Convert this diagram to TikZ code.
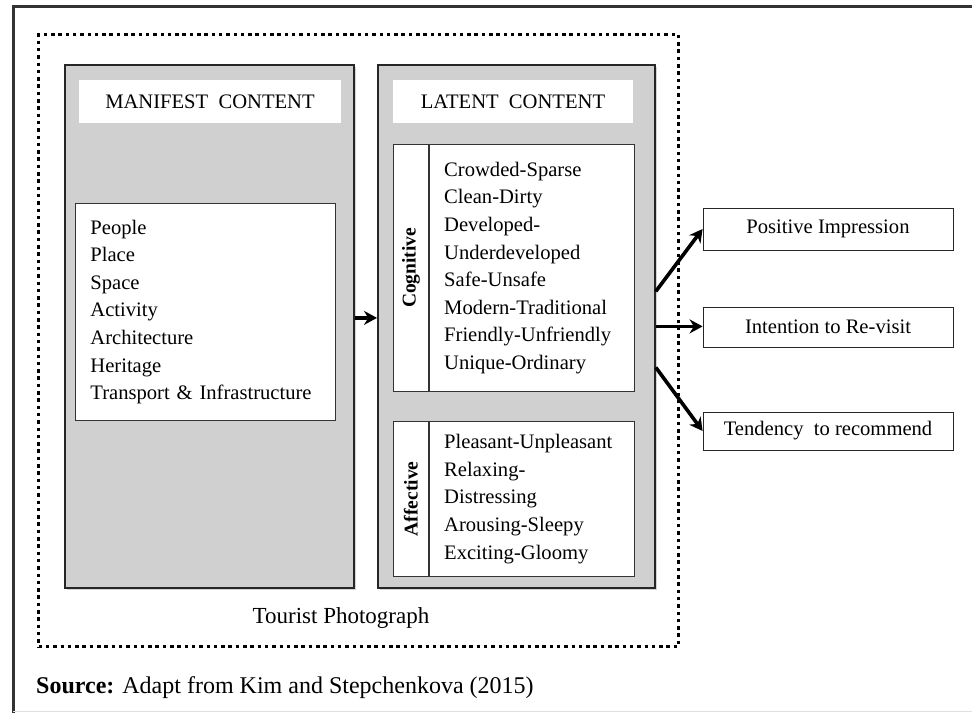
\documentclass[tikz,border=0pt]{standalone}
\usepackage{fontspec}
\setmainfont{Liberation Serif}
\usetikzlibrary{shapes.geometric, arrows.meta, shadows}
\definecolor{panelgray}{RGB}{208,208,208}

\begin{document}
\begin{tikzpicture}[x=1pt, y=-1pt, font=\fontsize{20.6}{27.6}\selectfont]
        \tikzstyle{panel} = [rectangle, draw=black!85, line width=1.8pt, fill=panelgray, drop shadow={opacity=0.35, shadow xshift=2pt, shadow yshift=-2pt}]
        \tikzstyle{headbox} = [rectangle, fill=white, minimum height=43pt]
        \tikzstyle{listbox} = [rectangle, draw=black!80, line width=0.8pt, fill=white, align=left, inner sep=0pt]
        \tikzstyle{tagbox} = [rectangle, draw=black!80, line width=0.8pt, fill=white, inner sep=0pt, font=\fontsize{19.5}{20}\selectfont\bfseries]
        \tikzstyle{outbox} = [rectangle, draw=black!85, line width=0.8pt, fill=white, minimum width=250pt]
        \tikzstyle{dotbox} = [rectangle, draw=black, line width=3.2pt, dash pattern=on 3.5pt off 3.8pt]
        \tikzstyle{arrow} = [line width=3.6pt, -{Stealth[length=13pt,width=14pt]}]

        \useasboundingbox (0,0) rectangle (972,713);

        % Frame
        \draw [line width=3pt, draw=black!80] (13,713) -- (13,6) -- (972,6);
        \draw [line width=1pt, draw=black!12] (13,711) -- (972,711);

        % Nodes
        \node (photo) [dotbox, anchor=north west, minimum width=640pt, minimum height=612pt] at (37,33) {};
        \node (manifest) [panel, anchor=north west, minimum width=289pt, minimum height=523pt] at (64,64) {};
        \node (latent) [panel, anchor=north west, minimum width=277pt, minimum height=523pt] at (377,64) {};

        \node (manifesthead) [headbox, minimum width=262pt] at (210,101.5) {MANIFEST\ \ CONTENT};
        \node (latenthead) [headbox, minimum width=240pt] at (513,101.5) {LATENT\ \ CONTENT};

        \node (manifestlist) [listbox, anchor=north west, minimum width=260pt, minimum height=217pt, text width=230pt] at (75,203) {People\\Place\\Space\\Activity\\Architecture\\Heritage\\Transport \& Infrastructure};

        \node (cogtag) [tagbox, anchor=north west, minimum width=35pt, minimum height=247pt] at (393,144) {\rotatebox{90}{Cognitive}};
        \node (coglist) [listbox, anchor=north west, minimum width=205pt, minimum height=247pt, text width=175pt] at (cogtag.north east) {Crowded-Sparse\\Clean-Dirty\\Developed-\\Underdeveloped\\Safe-Unsafe\\Modern-Traditional\\Friendly-Unfriendly\\Unique-Ordinary};

        \node (afftag) [tagbox, anchor=north west, minimum width=35pt, minimum height=155pt] at (393,421) {\rotatebox{90}{Affective}};
        \node (afflist) [listbox, anchor=north west, minimum width=205pt, minimum height=155pt, text width=175pt] at (afftag.north east) {Pleasant-Unpleasant\\Relaxing-\\Distressing\\Arousing-Sleepy\\Exciting-Gloomy};

        \node (positive) [outbox, minimum height=42pt] at (828,229) {Positive Impression};
        \node (revisit) [outbox, minimum height=40pt] at (828,327) {Intention to Re-visit};
        \node (recommend) [outbox, minimum height=38pt] at (828,431) {Tendency\ \ to recommend};

        \node (phototitle) [font=\fontsize{23}{25}\selectfont] at (341,618) {Tourist Photograph};
        \node (source) [anchor=west, inner sep=0pt, font=\fontsize{24}{26}\selectfont] at (36,688) {\textbf{Source:} Adapt from Kim and Stepchenkova (2015)};

        % Arrows
        \draw [arrow] ([yshift=8.5pt]manifest.east) -- ([yshift=8.5pt]latent.west);
        \draw [arrow] ([yshift=35pt]latent.east) -- (positive.west);
        \draw [arrow] (latent.east) -- (latent.east -| revisit.west);
        \draw [arrow] ([yshift=-41pt]latent.east) -- (recommend.west);

    \end{tikzpicture}
\end{document}
